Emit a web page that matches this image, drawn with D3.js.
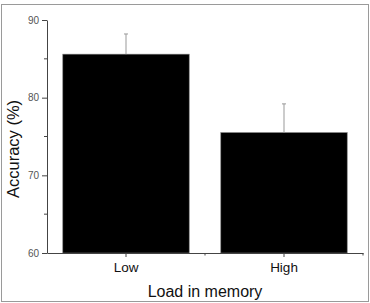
<!DOCTYPE html>
<html>
<head>
<meta charset="utf-8">
<script src="https://cdn.jsdelivr.net/npm/d3@7"></script>
<style>
  body { margin: 0; background: #fff; }
  text { font-family: "Liberation Sans", Arial, sans-serif; }
</style>
</head>
<body>
<div id="vis"></div>
<script>
var w = 370, h = 303;

// data
var categories = ["Low", "High"];
var accuracy = [85.6, 75.5];
var errUpper = [88.2, 79.2];
var yTicks = [60, 70, 80, 90];
var yMinor = [65, 75, 85];

var margin = {left: 47, right: 7, top: 20, bottom: 50};

var svg = d3.select("#vis").append("svg")
  .attr("width", w)
  .attr("height", h);

// outer frame
svg.append("rect")
  .attr("x", 1.5).attr("y", 4.5)
  .attr("width", w - 3).attr("height", h - 6)
  .attr("fill", "#fff")
  .attr("stroke", "#9a9a9a");

var x = d3.scaleBand()
  .domain(categories)
  .range([margin.left, w - margin.right])
  .paddingInner(0.2)
  .paddingOuter(0.1);

var y = d3.scaleLinear()
  .domain([60, 90])
  .range([253, 20]);

var axisColor = "#444";

// bars
svg.selectAll(".bar")
  .data(categories)
  .enter().append("rect")
  .attr("class", "bar")
  .attr("x", function(d){ return x(d); })
  .attr("y", function(d, i){ return y(accuracy[i]); })
  .attr("width", x.bandwidth())
  .attr("height", function(d, i){ return y(60) - y(accuracy[i]); })
  .attr("fill", "#000")
  .attr("stroke", "#777")
  .attr("stroke-width", 0.6);

// error bars (upper only)
var eb = svg.selectAll(".err")
  .data(categories)
  .enter().append("g")
  .attr("class", "err")
  .attr("stroke", "#999")
  .attr("stroke-width", 1);

eb.append("line")
  .attr("x1", function(d){ return x(d) + x.bandwidth() / 2; })
  .attr("x2", function(d){ return x(d) + x.bandwidth() / 2; })
  .attr("y1", function(d, i){ return y(accuracy[i]); })
  .attr("y2", function(d, i){ return y(errUpper[i]); });

eb.append("line")
  .attr("x1", function(d){ return x(d) + x.bandwidth() / 2 - 2; })
  .attr("x2", function(d){ return x(d) + x.bandwidth() / 2 + 2; })
  .attr("y1", function(d, i){ return y(errUpper[i]); })
  .attr("y2", function(d, i){ return y(errUpper[i]); });

// y axis
var yAxis = svg.append("g")
  .attr("transform", "translate(" + margin.left + ",0)")
  .call(d3.axisLeft(y).tickValues(yTicks).tickSize(5).tickPadding(3).tickSizeOuter(0));

yAxis.selectAll(".tick")
  .data(yMinor, function(d){ return d; })
  .enter().append("line")
  .attr("x2", -3)
  .attr("y1", function(d){ return y(d); })
  .attr("y2", function(d){ return y(d); });

// x axis
var xAxis = svg.append("g")
  .attr("transform", "translate(0," + y(60) + ")")
  .call(d3.axisBottom(x).tickSize(4).tickPadding(5).tickSizeOuter(0));

// minor ticks at category boundaries
var bounds = [x.step() + margin.left, w - margin.right];
xAxis.selectAll(".minor")
  .data(bounds)
  .enter().append("line")
  .attr("class", "minor")
  .attr("x1", function(d){ return d; })
  .attr("x2", function(d){ return d; })
  .attr("y2", 2.5);

svg.selectAll(".domain, .tick line, .minor").attr("stroke", axisColor);
yAxis.selectAll("line").attr("stroke", axisColor);

yAxis.selectAll("text")
  .attr("font-size", 10)
  .attr("fill", "#555")
  .attr("font-family", "Liberation Sans, Arial, sans-serif");

xAxis.selectAll("text")
  .attr("font-size", 13.5)
  .attr("fill", "#111")
  .attr("font-family", "Liberation Sans, Arial, sans-serif");

// axis titles
svg.append("text")
  .attr("x", (margin.left + w - margin.right) / 2)
  .attr("y", 297)
  .attr("text-anchor", "middle")
  .attr("font-size", 16)
  .attr("fill", "#111")
  .text("Load in memory");

svg.append("text")
  .attr("transform", "translate(19,149) rotate(-90)")
  .attr("text-anchor", "middle")
  .attr("font-size", 16.5)
  .attr("fill", "#111")
  .text("Accuracy (%)");
</script>
</body>
</html>
